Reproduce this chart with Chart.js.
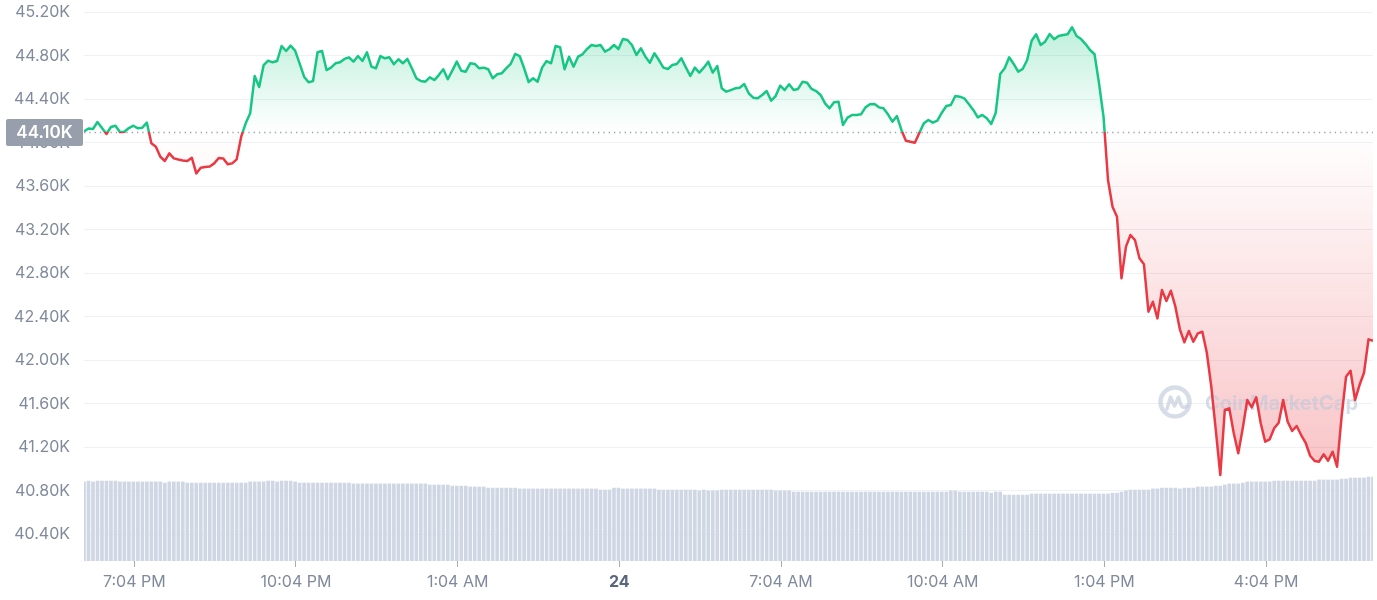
<!DOCTYPE html>
<html>
<head>
<meta charset="utf-8">
<script src="https://cdn.jsdelivr.net/npm/chart.js@4.4.1/dist/chart.umd.min.js"></script>
<style>
  html, body { margin: 0; padding: 0; background: #fff; }
  #wrap { position: relative; width: 1377px; height: 600px; }
</style>
</head>
<body>
<div id="wrap"><canvas id="priceChart"></canvas></div>
<script>
// 5 minute samples, time in minutes relative to the 7:04 PM tick
const startMinute = -56;
const stepMinute = 5;

// price (USD)
const priceValues = [
  44104, 44131, 44127, 44191, 44136, 44081, 44145, 44157, 44099, 44102,
  44136, 44157, 44133, 44139, 44185, 43995, 43964, 43872, 43833, 43903,
  43857, 43846, 43837, 43833, 43863, 43719, 43771, 43777, 43782, 43811,
  43860, 43856, 43802, 43811, 43848, 44056, 44179, 44271, 44614, 44513,
  44715, 44755, 44740, 44752, 44890, 44844, 44893, 44847, 44731, 44608,
  44556, 44568, 44832, 44844, 44669, 44691, 44731, 44740, 44771, 44786,
  44746, 44798, 44752, 44832, 44700, 44685, 44798, 44777, 44786, 44722,
  44768, 44731, 44771, 44685, 44593, 44568, 44562, 44602, 44577, 44623,
  44676, 44584, 44663, 44746, 44663, 44654, 44731, 44725, 44685, 44691,
  44676, 44593, 44630, 44639, 44685, 44725, 44817, 44798, 44685, 44559,
  44593, 44562, 44691, 44752, 44731, 44890, 44878, 44676, 44792, 44700,
  44792, 44814, 44862, 44899, 44890, 44899, 44838, 44860, 44899, 44862,
  44954, 44945, 44899, 44807, 44869, 44792, 44737, 44823, 44761, 44691,
  44679, 44715, 44725, 44777, 44694, 44614, 44691, 44645, 44691, 44746,
  44645, 44706, 44501, 44470, 44485, 44501, 44507, 44541, 44455, 44415,
  44409, 44440, 44476, 44387, 44430, 44525, 44485, 44538, 44485, 44495,
  44562, 44553, 44495, 44476, 44440, 44363, 44317, 44372, 44378, 44164,
  44231, 44256, 44256, 44262, 44326, 44354, 44357, 44326, 44317, 44262,
  44194, 44246, 44118, 44019, 44010, 44001, 44093, 44179, 44210, 44185,
  44203, 44277, 44338, 44348, 44430, 44424, 44409, 44357, 44302, 44234,
  44256, 44225, 44173, 44277, 44633, 44685, 44786, 44725, 44654, 44679,
  44761, 44939, 44998, 44899, 44930, 45000, 44952, 44982, 44991, 44998,
  45062, 44982, 44954, 44908, 44853, 44814, 44547, 44240, 43658, 43412,
  43320, 42754, 43045, 43152, 43106, 42938, 42883, 42447, 42539, 42386,
  42646, 42545, 42640, 42493, 42285, 42166, 42270, 42171, 42248, 42263,
  42070, 41757, 41359, 40945, 41543, 41559, 41329, 41145, 41375, 41635,
  41568, 41660, 41421, 41252, 41274, 41375, 41426, 41635, 41435, 41350,
  41396, 41313, 41242, 41123, 41074, 41068, 41136, 41077, 41160, 41022,
  41481, 41849, 41904, 41635, 41773, 41886, 42193, 42180
];

// 24h volume (billion USD), one bar per sample
const volumeValues = [
  28.2, 28.5, 28.2, 28.5, 28.5, 28.5, 28.5, 28.5, 28.2, 28.2, 28.2, 28.2,
  28.2, 28.2, 28.2, 28.2, 28.2, 28.2, 27.8, 28.2, 28.2, 28.2, 28.2, 27.8,
  27.8, 27.8, 27.8, 27.8, 27.8, 27.8, 27.8, 27.8, 27.8, 27.8, 27.8, 27.8,
  27.8, 28.2, 28.2, 28.2, 28.2, 28.5, 28.5, 28.2, 28.5, 28.5, 28.5, 28.2,
  27.8, 27.8, 27.8, 27.8, 27.8, 27.8, 27.8, 27.8, 27.8, 27.8, 27.8, 27.8,
  27.5, 27.5, 27.5, 27.5, 27.5, 27.5, 27.5, 27.5, 27.5, 27.5, 27.5, 27.5,
  27.5, 27.5, 27.5, 27.5, 27.5, 27.1, 27.1, 27.1, 27.1, 27.1, 26.7, 26.7,
  26.7, 26.7, 26.4, 26.4, 26.4, 26.4, 26.0, 26.0, 26.0, 26.0, 26.0, 26.0,
  26.0, 25.7, 25.7, 25.7, 25.7, 25.7, 25.7, 25.7, 25.7, 25.7, 25.7, 25.7,
  25.7, 25.7, 25.7, 25.7, 25.7, 25.7, 25.7, 25.3, 25.3, 25.3, 26.0, 26.0,
  25.7, 25.7, 25.7, 25.7, 25.7, 25.7, 25.7, 25.7, 25.3, 25.3, 25.3, 25.3,
  25.3, 25.3, 25.3, 25.3, 25.3, 25.0, 25.3, 25.0, 25.0, 25.0, 25.3, 25.3,
  25.3, 25.3, 25.3, 25.3, 25.3, 25.3, 25.3, 25.3, 25.3, 25.3, 25.0, 25.0,
  25.0, 25.0, 24.6, 24.6, 24.6, 24.6, 24.6, 24.6, 24.6, 24.6, 24.6, 24.6,
  24.6, 24.6, 24.6, 24.6, 24.6, 24.6, 24.6, 24.6, 24.6, 24.6, 24.6, 24.6,
  24.6, 24.6, 24.6, 24.6, 24.6, 24.6, 24.6, 24.6, 24.6, 24.6, 24.6, 24.6,
  24.6, 25.0, 25.0, 24.6, 24.6, 24.6, 24.6, 24.6, 24.6, 24.6, 24.2, 24.6,
  24.6, 23.5, 23.5, 23.5, 23.5, 23.5, 23.5, 23.9, 23.9, 23.9, 23.9, 23.9,
  23.9, 23.9, 23.9, 23.9, 23.9, 23.9, 23.9, 23.9, 23.9, 23.9, 23.9, 23.9,
  23.9, 24.2, 24.2, 24.6, 25.0, 25.3, 25.3, 25.3, 25.3, 25.3, 25.7, 25.7,
  26.0, 26.0, 26.0, 26.0, 25.7, 26.0, 26.0, 26.0, 26.4, 26.4, 26.4, 26.4,
  26.7, 26.7, 27.1, 27.5, 27.5, 27.5, 27.8, 28.2, 28.2, 28.2, 28.2, 28.2,
  28.2, 28.5, 28.5, 28.5, 28.5, 28.5, 28.5, 28.5, 28.5, 28.5, 28.5, 28.9,
  28.9, 28.9, 28.9, 28.9, 29.2, 29.2, 29.6, 29.6, 29.6, 29.6, 29.9, 29.9
];

const baseValue = 44100;          // reference price (dotted line)
const baseLabel = '44.10K';

const yTicks = [40400, 40800, 41200, 41600, 42000, 42400, 42800, 43200, 43600, 44000, 44400, 44800, 45200];
const yMin = 40155, yMax = 45313;

const xTickMinutes = [0, 180, 360, 540, 720, 900, 1080, 1260];
const xTickLabels = ['7:04 PM', '10:04 PM', '1:04 AM', '24', '7:04 AM', '10:04 AM', '1:04 PM', '4:04 PM'];
const xMin = -56, xMax = 1379;

const GREEN = '#16c784';
const RED = '#ea3943';
const FONT = 'Inter, "Noto Sans", sans-serif';

const timeOf = i => startMinute + i * stepMinute;
const priceData = priceValues.map((v, i) => ({ x: timeOf(i), y: v }));
const volumeData = volumeValues.map((v, i) => ({ x: timeOf(i), y: v }));
const isDateLabel = i => /^\d+$/.test(xTickLabels[i] || '');

function frac(area, y) {
    return Math.min(Math.max((y - area.top) / (area.bottom - area.top), 0), 1);
}

// 線の色: 基準線より上は緑、下は赤
function lineColor(ctx) {
    const chart = ctx.chart;
    const area = chart.chartArea;
    if (!area) return GREEN;
    const f = frac(area, chart.scales.y.getPixelForValue(baseValue));
    const g = chart.ctx.createLinearGradient(0, area.top, 0, area.bottom);
    g.addColorStop(0, GREEN);
    g.addColorStop(f, GREEN);
    g.addColorStop(f, RED);
    g.addColorStop(1, RED);
    return g;
}

// 塗り: 基準線で透明、離れるほど濃く
function fillColor(ctx) {
    const chart = ctx.chart;
    const area = chart.chartArea;
    if (!area) return 'rgba(0,0,0,0)';
    const ys = chart.scales.y;
    const fHi = frac(area, ys.getPixelForValue(Math.max(...priceValues)));
    const fBase = frac(area, ys.getPixelForValue(baseValue));
    const fLo = frac(area, ys.getPixelForValue(Math.min(...priceValues)));
    const g = chart.ctx.createLinearGradient(0, area.top, 0, area.bottom);
    g.addColorStop(0, 'rgba(22,199,132,0.30)');
    g.addColorStop(fHi, 'rgba(22,199,132,0.28)');
    g.addColorStop(fBase, 'rgba(22,199,132,0)');
    g.addColorStop(fBase, 'rgba(234,57,67,0)');
    g.addColorStop(fLo, 'rgba(234,57,67,0.30)');
    g.addColorStop(1, 'rgba(234,57,67,0.30)');
    return g;
}

const overlayPlugin = {
    id: 'overlay',
    beforeDatasetsDraw(chart) {
        const { ctx, chartArea: a, scales } = chart;
        ctx.save();
        // watermark
        const cx = a.right - 198, cy = 402;
        ctx.strokeStyle = 'rgba(190,200,217,0.62)';
        ctx.lineWidth = 4.5;
        ctx.lineCap = 'round';
        ctx.lineJoin = 'round';
        ctx.beginPath();
        ctx.arc(cx, cy, 14.5, 0, Math.PI * 2);
        ctx.stroke();
        ctx.lineWidth = 3.5;
        ctx.beginPath();
        ctx.moveTo(cx - 8, cy + 7);
        ctx.lineTo(cx - 4.5, cy - 5);
        ctx.lineTo(cx - 0.5, cy + 4);
        ctx.lineTo(cx + 3.5, cy - 5);
        ctx.lineTo(cx + 6, cy + 3);
        ctx.quadraticCurveTo(cx + 8, cy + 7, cx + 12, cy + 4);
        ctx.stroke();
        ctx.fillStyle = 'rgba(190,200,217,0.62)';
        ctx.font = 'bold 20px ' + FONT;
        ctx.textBaseline = 'alphabetic';
        ctx.textAlign = 'left';
        ctx.fillText('CoinMarketCap', cx + 30, cy + 8);

        // dotted base line
        const y = Math.round(scales.y.getPixelForValue(baseValue)) + 0.5;
        ctx.strokeStyle = '#9aa1ae';
        ctx.lineWidth = 1.3;
        ctx.lineCap = 'butt';
        ctx.setLineDash([1.3, 4]);
        ctx.beginPath();
        ctx.moveTo(a.left, y);
        ctx.lineTo(a.right, y);
        ctx.stroke();
        ctx.restore();
    },
    afterDraw(chart) {
        const { ctx, scales } = chart;
        const y = scales.y.getPixelForValue(baseValue);
        ctx.save();
        ctx.fillStyle = '#979eac';
        ctx.beginPath();
        ctx.roundRect(6, Math.round(y) - 13, 77, 27, 2);
        ctx.fill();
        ctx.fillStyle = '#ffffff';
        ctx.font = '600 17px ' + FONT;
        ctx.textAlign = 'center';
        ctx.textBaseline = 'middle';
        ctx.fillText(baseLabel, 44.5, Math.round(y) + 1);
        ctx.restore();
    }
};

new Chart(document.getElementById('priceChart'), {
    type: 'line',
    data: {
        datasets: [
            {
                label: 'Price',
                data: priceData,
                borderColor: lineColor,
                backgroundColor: fillColor,
                borderWidth: 2.5,
                borderJoinStyle: 'round',
                pointRadius: 0,
                tension: 0,
                fill: { value: baseValue },
                yAxisID: 'y',
                order: 1
            },
            {
                type: 'bar',
                label: 'Volume',
                data: volumeData,
                backgroundColor: '#cfd6e4',
                barThickness: 3,
                yAxisID: 'yv',
                order: 2
            }
        ]
    },
    plugins: [overlayPlugin],
    options: {
        responsive: true,
        maintainAspectRatio: false,
        animation: false,
        layout: { padding: { top: 0, right: 4, bottom: 0, left: 0 } },
        plugins: {
            legend: { display: false },
            tooltip: { enabled: false },
            filler: { drawTime: 'beforeDatasetsDraw' }
        },
        scales: {
            x: {
                type: 'linear',
                min: xMin,
                max: xMax,
                offset: false,
                afterBuildTicks: s => { s.ticks = xTickMinutes.map(v => ({ value: v })); },
                afterFit: s => { s.height = 39; s.paddingLeft = 0; s.paddingRight = 0; },
                ticks: {
                    autoSkip: false,
                    maxRotation: 0,
                    padding: 6,
                    callback: (v, i) => xTickLabels[i],
                    color: c => isDateLabel(c.index) ? '#58667e' : '#808a9d',
                    font: c => ({ family: FONT, size: 16, weight: isDateLabel(c.index) ? 'bold' : 'normal' })
                },
                grid: { offset: false, drawOnChartArea: false, drawTicks: true, tickLength: 6, color: '#a5acba' },
                border: { display: false }
            },
            y: {
                type: 'linear',
                position: 'left',
                min: yMin,
                max: yMax,
                afterBuildTicks: s => { s.ticks = yTicks.map(v => ({ value: v })); },
                afterFit: s => { s.width = 84; s.paddingTop = 0; s.paddingBottom = 0; },
                ticks: {
                    padding: 14,
                    color: '#808a9d',
                    font: { family: FONT, size: 16 },
                    callback: v => (v / 1000).toFixed(2) + 'K'
                },
                grid: { color: '#eef1f5', drawTicks: false },
                border: { display: false }
            },
            yv: {
                type: 'linear',
                display: false,
                min: 0,
                max: 200
            }
        }
    }
});
</script>
</body>
</html>
